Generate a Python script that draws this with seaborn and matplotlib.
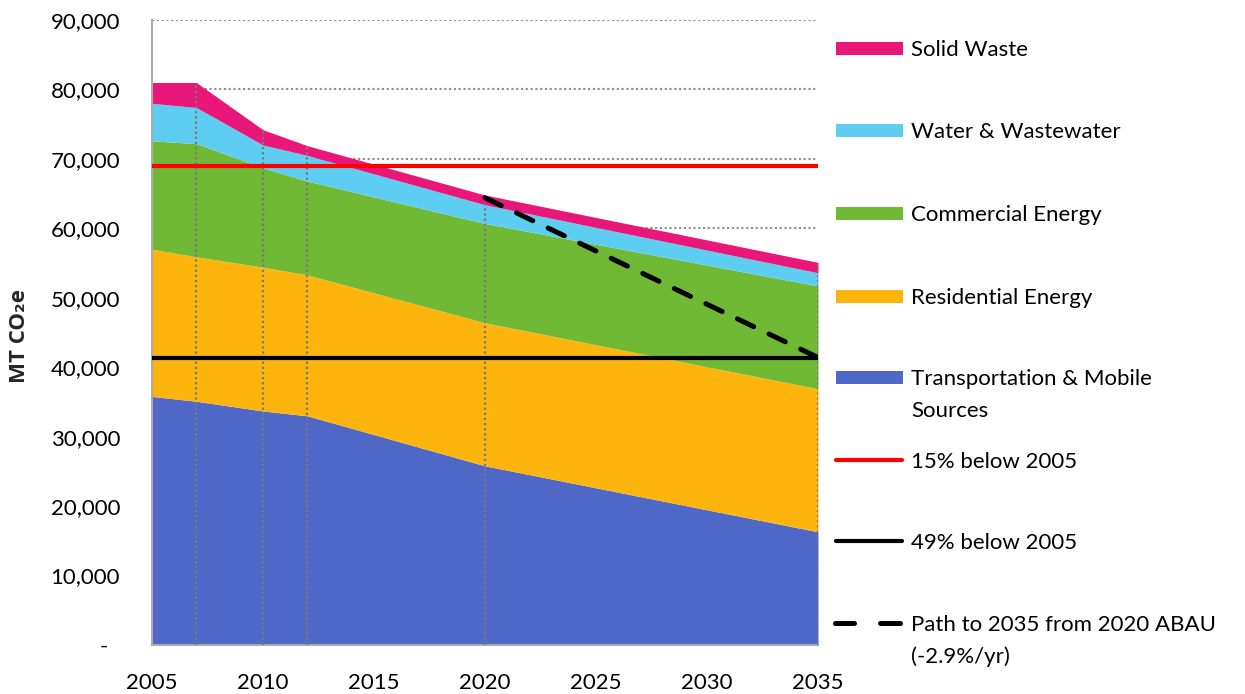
import matplotlib
matplotlib.use("Agg")
import matplotlib.pyplot as plt
from matplotlib.lines import Line2D
from matplotlib.patches import Rectangle
import seaborn as sns
import numpy as np

# ---------------- data ----------------
years = [2005, 2007, 2010, 2012, 2020, 2035]
transport = [35800, 35100, 33700, 33000, 25800, 16300]
residential = [21200, 20800, 20700, 20300, 20600, 20600]
commercial = [15600, 16300, 14300, 13500, 14300, 14800]
water = [5400, 5200, 3300, 3700, 2700, 1900]
solid_waste = [3000, 3600, 2200, 1400, 1400, 1500]

target_years = [2005, 2035]
target_15 = [69000, 69000]      # 15% below 2005
target_49 = [41400, 41400]      # 49% below 2005
path_years = [2020, 2035]
path_values = [64400, 41400]    # Path to 2035 from 2020 ABAU

y_ticks = [0, 10000, 20000, 30000, 40000, 50000, 60000, 70000, 80000, 90000]
y_tick_labels = ["-  ", "10,000", "20,000", "30,000", "40,000", "50,000",
                 "60,000", "70,000", "80,000", "90,000"]
x_ticks = [2005, 2010, 2015, 2020, 2025, 2030, 2035]

series_names = ["Solid Waste", "Water & Wastewater", "Commercial Energy",
                "Residential Energy", "Transportation & Mobile\nSources"]
line_names = ["15% below 2005", "49% below 2005",
              "Path to 2035 from 2020 ABAU\n(-2.9%/yr)"]

# ---------------- style ----------------
c_solid = "#E9177A"
c_water = "#5ECDF2"
c_comm = "#70B935"
c_res = "#FDB50E"
c_trans = "#4F67C6"

sns.set_theme(style="white")
plt.rcParams["font.family"] = ["Lato", "DejaVu Sans"]

W, H = 1245, 694
fig = plt.figure(figsize=(W / 100, H / 100), dpi=100)
ax = fig.add_axes([152 / W, 1 - 645 / H, (818 - 152) / W, (645 - 20) / H])

# gridlines (behind)
ax.set_axisbelow(True)
ax.yaxis.grid(True, color="#8C8C8C", linestyle=(0, (1, 1.3)), linewidth=1.5)
ax.xaxis.grid(False)

# stacked areas
ax.stackplot(years, transport, residential, commercial, water, solid_waste,
             colors=[c_trans, c_res, c_comm, c_water, c_solid],
             linewidth=0, zorder=2)

# drop lines
totals = np.sum([transport, residential, commercial, water, solid_waste], axis=0)
ax.vlines(years[1:], 0, totals[1:], colors="#7A7A7A",
          linestyles=[(0, (1, 1.3))], linewidth=1.6, zorder=3)

# target lines
sns.lineplot(x=target_years, y=target_15, color="#FF0000", linewidth=3,
             ax=ax, zorder=4)
sns.lineplot(x=target_years, y=target_49, color="black", linewidth=3,
             ax=ax, zorder=4)
sns.lineplot(x=path_years, y=path_values, color="black", linewidth=3.6,
             linestyle=(0, (3.6, 3.4)), dash_capstyle="round", ax=ax, zorder=5)

ax.set_xlim(2005, 2035)
ax.set_ylim(0, 90000)
ax.set_xticks(x_ticks)
ax.set_xticklabels([str(v) for v in x_ticks])
ax.set_yticks(y_ticks)
ax.set_yticklabels(y_tick_labels)
ax.tick_params(axis="y", length=0, pad=23, labelsize=16, labelcolor="black")
ax.tick_params(axis="x", length=0, pad=20, labelsize=16, labelcolor="black")
ax.set_xlabel("")
ax.set_ylabel("")

for s in ["top", "right"]:
    ax.spines[s].set_visible(False)
for s in ["left", "bottom"]:
    ax.spines[s].set_color("#ABABAB")
    ax.spines[s].set_linewidth(1.5)

# y-axis title: bold, with a subscript 2
fig.text(20 / W, 1 - 336 / H, "MT CO\u2082e", rotation=90,
         ha="center", va="center", fontsize=16, fontweight="bold",
         family=["Open Sans", "DejaVu Sans"])

# ---------------- legend (manual, Excel style) ----------------
def fx(px):
    return px / W

def fy(py):
    return 1 - py / H

patch_colors = [c_solid, c_water, c_comm, c_res, c_trans]
patch_rows = [48, 130, 213, 296, 377]
for name, col, row in zip(series_names, patch_colors, patch_rows):
    fig.add_artist(Rectangle((fx(836), fy(row + 6.5)), fx(903) - fx(836),
                             13 / H, transform=fig.transFigure,
                             facecolor=col, edgecolor="none"))
    for i, part in enumerate(name.split("\n")):
        fig.text(fx(911), fy(row + 8 + 32 * i), part, fontsize=16,
                 ha="left", va="baseline", color="black")

line_rows = [460, 541, 623]
fig.add_artist(Line2D([fx(836), fx(902)], [fy(460), fy(460)],
                      transform=fig.transFigure, color="#FF0000", lw=3,
                      solid_capstyle="round"))
fig.add_artist(Line2D([fx(836), fx(902)], [fy(541), fy(541)],
                      transform=fig.transFigure, color="black", lw=3,
                      solid_capstyle="round"))
fig.add_artist(Line2D([fx(835), fx(854)], [fy(623), fy(623)],
                      transform=fig.transFigure, color="black", lw=3.6,
                      solid_capstyle="round"))
fig.add_artist(Line2D([fx(880), fx(900)], [fy(623), fy(623)],
                      transform=fig.transFigure, color="black", lw=3.6,
                      solid_capstyle="round"))
for name, row in zip(line_names, line_rows):
    for i, part in enumerate(name.split("\n")):
        fig.text(fx(911), fy(row + 8 + 32 * i), part, fontsize=16,
                 ha="left", va="baseline", color="black")

fig.savefig("out.png", dpi=100)
